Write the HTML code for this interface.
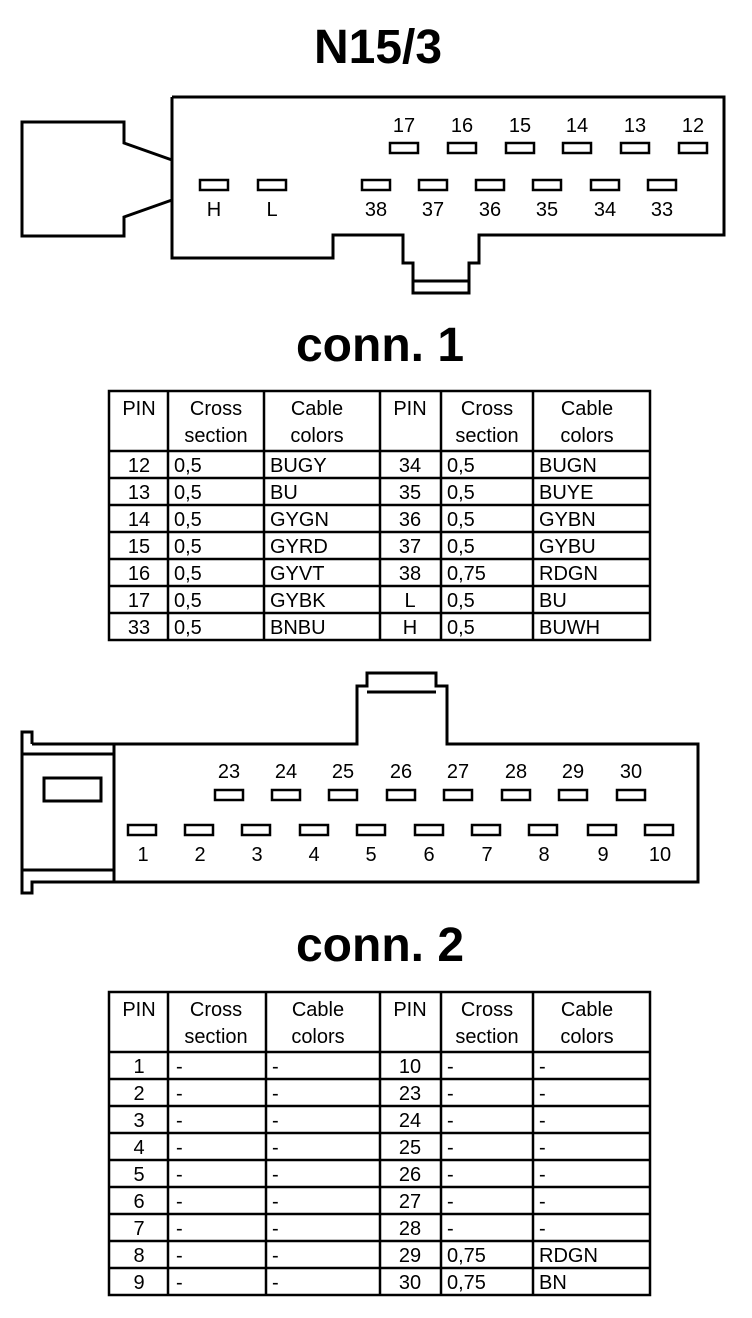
<!DOCTYPE html>
<html><head><meta charset="utf-8"><style>
html,body{margin:0;padding:0;background:#fff;}
svg{display:block;}
text{font-family:"Liberation Sans",Arial,sans-serif;fill:#000;}
.t{font-size:20px;}
.h{font-size:48px;font-weight:bold;}
.c{text-anchor:middle;}
</style></head><body>
<svg width="752" height="1318" viewBox="0 0 752 1318" xmlns="http://www.w3.org/2000/svg">
<g fill="none" stroke="#000" stroke-width="3">
<!-- connector 1 -->
<polyline points="172,97 724,97 724,235 479,235 479,263 469,263 469,293 413,293 413,263 403,263 403,235 333,235 333,258 172,258 172,97"/>
<line x1="413" y1="281" x2="469" y2="281"/>
<polyline points="172,160 124,143 124,122 22,122 22,236 124,236 124,217 172,200"/>
<!-- connector 2 -->
<polyline points="32,744 32,732 22,732 22,893 32,893 32,882 698,882 698,744 447,744 447,686 436,686 436,673 367,673 367,686 357,686 357,744 32,744"/>
<line x1="367" y1="692" x2="436" y2="692"/>
<line x1="114" y1="744" x2="114" y2="882"/>
<line x1="22" y1="754" x2="114" y2="754"/>
<line x1="22" y1="870" x2="114" y2="870"/>
<rect x="44" y="778" width="57" height="23"/>
</g>
<g fill="none" stroke="#000" stroke-width="2.5">
<rect x="390" y="143" width="28" height="10"/><rect x="448" y="143" width="28" height="10"/><rect x="506" y="143" width="28" height="10"/><rect x="563" y="143" width="28" height="10"/><rect x="621" y="143" width="28" height="10"/><rect x="679" y="143" width="28" height="10"/>
<rect x="200" y="180" width="28" height="10"/><rect x="258" y="180" width="28" height="10"/><rect x="362" y="180" width="28" height="10"/><rect x="419" y="180" width="28" height="10"/><rect x="476" y="180" width="28" height="10"/><rect x="533" y="180" width="28" height="10"/><rect x="591" y="180" width="28" height="10"/><rect x="648" y="180" width="28" height="10"/>
<rect x="215" y="790" width="28" height="10"/><rect x="272" y="790" width="28" height="10"/><rect x="329" y="790" width="28" height="10"/><rect x="387" y="790" width="28" height="10"/><rect x="444" y="790" width="28" height="10"/><rect x="502" y="790" width="28" height="10"/><rect x="559" y="790" width="28" height="10"/><rect x="617" y="790" width="28" height="10"/>
<rect x="128" y="825" width="28" height="10"/><rect x="185" y="825" width="28" height="10"/><rect x="242" y="825" width="28" height="10"/><rect x="300" y="825" width="28" height="10"/><rect x="357" y="825" width="28" height="10"/><rect x="415" y="825" width="28" height="10"/><rect x="472" y="825" width="28" height="10"/><rect x="529" y="825" width="28" height="10"/><rect x="588" y="825" width="28" height="10"/><rect x="645" y="825" width="28" height="10"/>
</g>
<text class="h c" x="378" y="63">N15/3</text>
<text class="h c" x="380" y="361">conn. 1</text>
<text class="h c" x="380" y="961">conn. 2</text>
<g class="t c">
<text class="t c" x="404" y="132">17</text><text class="t c" x="462" y="132">16</text><text class="t c" x="520" y="132">15</text><text class="t c" x="577" y="132">14</text><text class="t c" x="635" y="132">13</text><text class="t c" x="693" y="132">12</text>
<text class="t c" x="214" y="216">H</text><text class="t c" x="272" y="216">L</text><text class="t c" x="376" y="216">38</text><text class="t c" x="433" y="216">37</text><text class="t c" x="490" y="216">36</text><text class="t c" x="547" y="216">35</text><text class="t c" x="605" y="216">34</text><text class="t c" x="662" y="216">33</text>
<text class="t c" x="229" y="778">23</text><text class="t c" x="286" y="778">24</text><text class="t c" x="343" y="778">25</text><text class="t c" x="401" y="778">26</text><text class="t c" x="458" y="778">27</text><text class="t c" x="516" y="778">28</text><text class="t c" x="573" y="778">29</text><text class="t c" x="631" y="778">30</text>
<text class="t c" x="143" y="861">1</text><text class="t c" x="200" y="861">2</text><text class="t c" x="257" y="861">3</text><text class="t c" x="314" y="861">4</text><text class="t c" x="371" y="861">5</text><text class="t c" x="429" y="861">6</text><text class="t c" x="487" y="861">7</text><text class="t c" x="544" y="861">8</text><text class="t c" x="603" y="861">9</text><text class="t c" x="660" y="861">10</text>
</g>
<!-- table 1 -->
<g fill="none" stroke="#000" stroke-width="2.5">
<rect x="109" y="391" width="541" height="249"/>
<line x1="168" y1="391" x2="168" y2="640"/><line x1="264" y1="391" x2="264" y2="640"/><line x1="380" y1="391" x2="380" y2="640"/><line x1="441" y1="391" x2="441" y2="640"/><line x1="533" y1="391" x2="533" y2="640"/>
<line x1="109" y1="451" x2="650" y2="451"/><line x1="109" y1="478" x2="650" y2="478"/><line x1="109" y1="505" x2="650" y2="505"/><line x1="109" y1="532" x2="650" y2="532"/><line x1="109" y1="559" x2="650" y2="559"/><line x1="109" y1="586" x2="650" y2="586"/><line x1="109" y1="613" x2="650" y2="613"/>
</g>
<g class="t">
<text class="t c" x="139" y="415">PIN</text><text class="t c" x="216" y="415">Cross</text><text class="t c" x="216" y="442">section</text><text class="t c" x="317" y="415">Cable</text><text class="t c" x="317" y="442">colors</text>
<text class="t c" x="410" y="415">PIN</text><text class="t c" x="487" y="415">Cross</text><text class="t c" x="487" y="442">section</text><text class="t c" x="587" y="415">Cable</text><text class="t c" x="587" y="442">colors</text>
</g>
<g class="t">
<text class="t c" x="139" y="472">12</text><text class="t" x="174" y="472">0,5</text><text class="t" x="270" y="472">BUGY</text><text class="t c" x="410" y="472">34</text><text class="t" x="447" y="472">0,5</text><text class="t" x="539" y="472">BUGN</text>
<text class="t c" x="139" y="499">13</text><text class="t" x="174" y="499">0,5</text><text class="t" x="270" y="499">BU</text><text class="t c" x="410" y="499">35</text><text class="t" x="447" y="499">0,5</text><text class="t" x="539" y="499">BUYE</text>
<text class="t c" x="139" y="526">14</text><text class="t" x="174" y="526">0,5</text><text class="t" x="270" y="526">GYGN</text><text class="t c" x="410" y="526">36</text><text class="t" x="447" y="526">0,5</text><text class="t" x="539" y="526">GYBN</text>
<text class="t c" x="139" y="553">15</text><text class="t" x="174" y="553">0,5</text><text class="t" x="270" y="553">GYRD</text><text class="t c" x="410" y="553">37</text><text class="t" x="447" y="553">0,5</text><text class="t" x="539" y="553">GYBU</text>
<text class="t c" x="139" y="580">16</text><text class="t" x="174" y="580">0,5</text><text class="t" x="270" y="580">GYVT</text><text class="t c" x="410" y="580">38</text><text class="t" x="447" y="580">0,75</text><text class="t" x="539" y="580">RDGN</text>
<text class="t c" x="139" y="607">17</text><text class="t" x="174" y="607">0,5</text><text class="t" x="270" y="607">GYBK</text><text class="t c" x="410" y="607">L</text><text class="t" x="447" y="607">0,5</text><text class="t" x="539" y="607">BU</text>
<text class="t c" x="139" y="634">33</text><text class="t" x="174" y="634">0,5</text><text class="t" x="270" y="634">BNBU</text><text class="t c" x="410" y="634">H</text><text class="t" x="447" y="634">0,5</text><text class="t" x="539" y="634">BUWH</text>
</g>
<!-- table 2 -->
<g fill="none" stroke="#000" stroke-width="2.5">
<rect x="109" y="992" width="541" height="303"/>
<line x1="168" y1="992" x2="168" y2="1295"/><line x1="266" y1="992" x2="266" y2="1295"/><line x1="380" y1="992" x2="380" y2="1295"/><line x1="441" y1="992" x2="441" y2="1295"/><line x1="533" y1="992" x2="533" y2="1295"/>
<line x1="109" y1="1052" x2="650" y2="1052"/><line x1="109" y1="1079" x2="650" y2="1079"/><line x1="109" y1="1106" x2="650" y2="1106"/><line x1="109" y1="1133" x2="650" y2="1133"/><line x1="109" y1="1160" x2="650" y2="1160"/><line x1="109" y1="1187" x2="650" y2="1187"/><line x1="109" y1="1214" x2="650" y2="1214"/><line x1="109" y1="1241" x2="650" y2="1241"/><line x1="109" y1="1268" x2="650" y2="1268"/>
</g>
<g class="t">
<text class="t c" x="139" y="1016">PIN</text><text class="t c" x="216" y="1016">Cross</text><text class="t c" x="216" y="1043">section</text><text class="t c" x="318" y="1016">Cable</text><text class="t c" x="318" y="1043">colors</text>
<text class="t c" x="410" y="1016">PIN</text><text class="t c" x="487" y="1016">Cross</text><text class="t c" x="487" y="1043">section</text><text class="t c" x="587" y="1016">Cable</text><text class="t c" x="587" y="1043">colors</text>
</g>
<g class="t">
<text class="t c" x="139" y="1073">1</text><text class="t" x="176" y="1073">-</text><text class="t" x="272" y="1073">-</text><text class="t c" x="410" y="1073">10</text><text class="t" x="447" y="1073">-</text><text class="t" x="539" y="1073">-</text>
<text class="t c" x="139" y="1100">2</text><text class="t" x="176" y="1100">-</text><text class="t" x="272" y="1100">-</text><text class="t c" x="410" y="1100">23</text><text class="t" x="447" y="1100">-</text><text class="t" x="539" y="1100">-</text>
<text class="t c" x="139" y="1127">3</text><text class="t" x="176" y="1127">-</text><text class="t" x="272" y="1127">-</text><text class="t c" x="410" y="1127">24</text><text class="t" x="447" y="1127">-</text><text class="t" x="539" y="1127">-</text>
<text class="t c" x="139" y="1154">4</text><text class="t" x="176" y="1154">-</text><text class="t" x="272" y="1154">-</text><text class="t c" x="410" y="1154">25</text><text class="t" x="447" y="1154">-</text><text class="t" x="539" y="1154">-</text>
<text class="t c" x="139" y="1181">5</text><text class="t" x="176" y="1181">-</text><text class="t" x="272" y="1181">-</text><text class="t c" x="410" y="1181">26</text><text class="t" x="447" y="1181">-</text><text class="t" x="539" y="1181">-</text>
<text class="t c" x="139" y="1208">6</text><text class="t" x="176" y="1208">-</text><text class="t" x="272" y="1208">-</text><text class="t c" x="410" y="1208">27</text><text class="t" x="447" y="1208">-</text><text class="t" x="539" y="1208">-</text>
<text class="t c" x="139" y="1235">7</text><text class="t" x="176" y="1235">-</text><text class="t" x="272" y="1235">-</text><text class="t c" x="410" y="1235">28</text><text class="t" x="447" y="1235">-</text><text class="t" x="539" y="1235">-</text>
<text class="t c" x="139" y="1262">8</text><text class="t" x="176" y="1262">-</text><text class="t" x="272" y="1262">-</text><text class="t c" x="410" y="1262">29</text><text class="t" x="447" y="1262">0,75</text><text class="t" x="539" y="1262">RDGN</text>
<text class="t c" x="139" y="1289">9</text><text class="t" x="176" y="1289">-</text><text class="t" x="272" y="1289">-</text><text class="t c" x="410" y="1289">30</text><text class="t" x="447" y="1289">0,75</text><text class="t" x="539" y="1289">BN</text>
</g>
</svg>
</body></html>
